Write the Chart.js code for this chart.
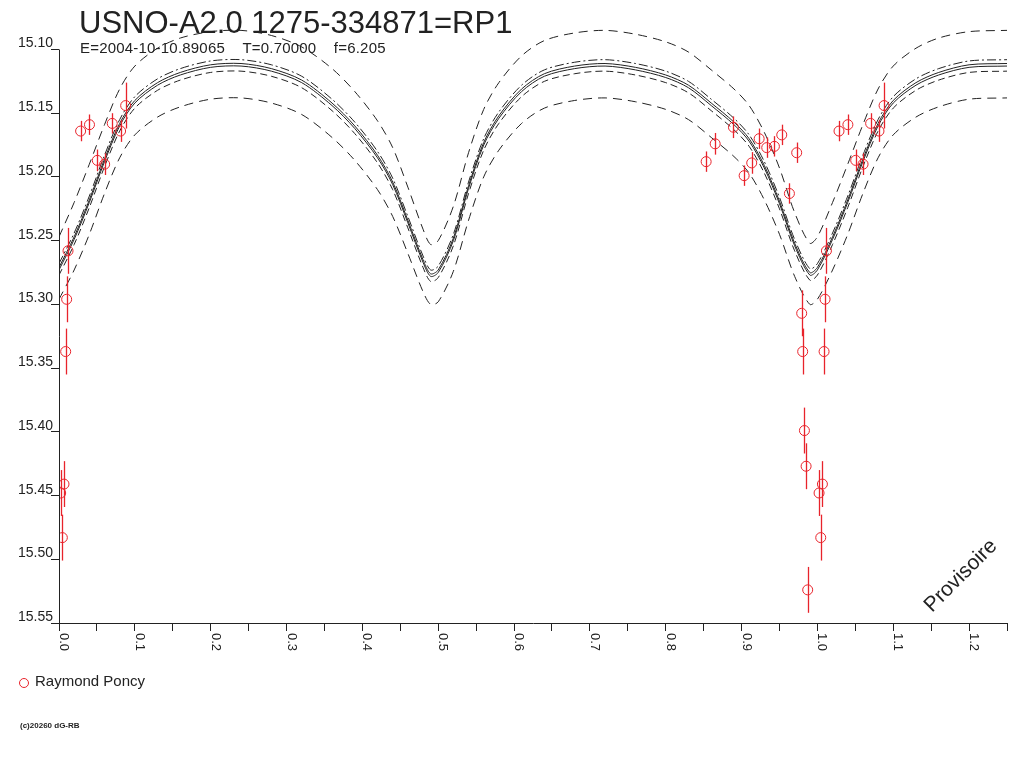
<!DOCTYPE html>
<html>
<head>
<meta charset="utf-8">
<script src="https://cdn.jsdelivr.net/npm/chart.js@4.4.1/dist/chart.umd.min.js"></script>
<style>
html, body { margin: 0; padding: 0; background: #fff; }
canvas { display: block; }
</style>
</head>
<body>
<canvas id="lc" width="1024" height="768"></canvas>
<script>
// phase grid of the model curves
const phases = [
  0.00, 0.02, 0.04, 0.06, 0.08, 0.10, 0.13, 0.16,
  0.20, 0.24, 0.28, 0.32, 0.36, 0.39, 0.42, 0.44,
  0.46, 0.48, 0.49, 0.50, 0.52, 0.54, 0.56, 0.58,
  0.61, 0.64, 0.68, 0.72, 0.76, 0.80, 0.83, 0.86,
  0.89, 0.91, 0.93, 0.95, 0.97, 0.99, 1.00, 1.02,
  1.04, 1.06, 1.08, 1.10, 1.13, 1.16, 1.20, 1.25
];

const magModel = [
  15.271, 15.247, 15.218, 15.186, 15.158, 15.140, 15.126, 15.118,
  15.112, 15.111, 15.115, 15.124, 15.142, 15.160, 15.183, 15.204,
  15.234, 15.265, 15.276, 15.273, 15.248, 15.207, 15.173, 15.152,
  15.131, 15.119, 15.113, 15.111, 15.114, 15.120, 15.128, 15.142,
  15.157, 15.170, 15.191, 15.219, 15.252, 15.275, 15.271, 15.247,
  15.218, 15.186, 15.158, 15.140, 15.126, 15.118, 15.112, 15.111
];

const magModel2 = [
  15.273, 15.249, 15.220, 15.188, 15.160, 15.142, 15.128, 15.120,
  15.114, 15.113, 15.117, 15.126, 15.144, 15.162, 15.185, 15.206,
  15.236, 15.267, 15.278, 15.275, 15.250, 15.209, 15.175, 15.154,
  15.133, 15.121, 15.115, 15.113, 15.116, 15.122, 15.130, 15.144,
  15.159, 15.172, 15.193, 15.221, 15.254, 15.277, 15.273, 15.249,
  15.220, 15.188, 15.160, 15.142, 15.128, 15.120, 15.114, 15.113
];

const magUpperInner = [
  15.268, 15.244, 15.215, 15.183, 15.155, 15.137, 15.123, 15.115,
  15.109, 15.108, 15.112, 15.121, 15.139, 15.157, 15.180, 15.201,
  15.231, 15.262, 15.273, 15.270, 15.245, 15.204, 15.170, 15.149,
  15.128, 15.116, 15.110, 15.108, 15.111, 15.117, 15.125, 15.139,
  15.154, 15.167, 15.188, 15.216, 15.249, 15.272, 15.268, 15.244,
  15.215, 15.183, 15.155, 15.137, 15.123, 15.115, 15.109, 15.108
];

const magLowerInner = [
  15.277, 15.253, 15.224, 15.192, 15.164, 15.146, 15.132, 15.124,
  15.118, 15.117, 15.121, 15.130, 15.148, 15.166, 15.189, 15.210,
  15.240, 15.271, 15.282, 15.279, 15.254, 15.213, 15.179, 15.158,
  15.137, 15.125, 15.119, 15.117, 15.120, 15.126, 15.134, 15.148,
  15.163, 15.176, 15.197, 15.225, 15.258, 15.281, 15.277, 15.253,
  15.224, 15.192, 15.164, 15.146, 15.132, 15.124, 15.118, 15.117
];

const magUpperOuter = [
  15.247, 15.220, 15.190, 15.159, 15.131, 15.113, 15.099, 15.091,
  15.086, 15.085, 15.089, 15.098, 15.115, 15.133, 15.156, 15.177,
  15.208, 15.241, 15.253, 15.250, 15.223, 15.181, 15.147, 15.126,
  15.105, 15.093, 15.087, 15.085, 15.088, 15.094, 15.102, 15.116,
  15.131, 15.144, 15.165, 15.193, 15.228, 15.252, 15.247, 15.220,
  15.190, 15.159, 15.131, 15.113, 15.099, 15.091, 15.086, 15.085
];

const magLowerOuter = [
  15.296, 15.273, 15.245, 15.213, 15.185, 15.167, 15.153, 15.145,
  15.139, 15.138, 15.142, 15.151, 15.169, 15.187, 15.210, 15.231,
  15.260, 15.290, 15.300, 15.298, 15.274, 15.234, 15.200, 15.179,
  15.158, 15.146, 15.140, 15.138, 15.141, 15.147, 15.155, 15.169,
  15.184, 15.197, 15.218, 15.245, 15.278, 15.300, 15.296, 15.273,
  15.245, 15.213, 15.185, 15.167, 15.153, 15.145, 15.139, 15.138
];

// observations (Raymond Poncy)
const obsPhase = [
  0.0022, 0.0044, 0.0066, 0.0088, 0.0101, 0.0119, 0.0285, 0.0402,
  0.0505, 0.0602, 0.0702, 0.0812, 0.0879,
  0.8533, 0.8652, 0.8893, 0.9034, 0.9134, 0.9232, 0.9332, 0.9433,
  0.9530, 0.9631, 0.9727, 0.9793, 0.9806, 0.9829, 0.9851, 0.9872
];
const obsMag = [
  15.448, 15.483, 15.441, 15.337, 15.296, 15.258, 15.164, 15.159,
  15.187, 15.190, 15.158, 15.164, 15.144,
  15.188, 15.174, 15.161, 15.199, 15.189, 15.170, 15.177, 15.176,
  15.167, 15.213, 15.181, 15.307, 15.337, 15.399, 15.427, 15.524
];
const obsErr = [
  0.018, 0.018, 0.018, 0.018, 0.018, 0.018, 0.008, 0.008,
  0.0085, 0.0085, 0.008, 0.0085, 0.018,
  0.008, 0.0085, 0.0085, 0.008, 0.0085, 0.008, 0.008, 0.008,
  0.008, 0.008, 0.008, 0.018, 0.018, 0.018, 0.018, 0.018
];

const yTicks = [15.10, 15.15, 15.20, 15.25, 15.30, 15.35, 15.40, 15.45, 15.50, 15.55];
const xTicks = [0, 0.05, 0.1, 0.15, 0.2, 0.25, 0.3, 0.35, 0.4, 0.45, 0.5, 0.55, 0.6,
  0.65, 0.7, 0.75, 0.8, 0.85, 0.9, 0.95, 1.0, 1.05, 1.1, 1.15, 1.2, 1.25];
const xLabelTicks = [0, 0.1, 0.2, 0.3, 0.4, 0.5, 0.6, 0.7, 0.8, 0.9, 1.0, 1.1, 1.2];

const INK = "#222";
const RED = "#e8232b";
const FONT = "'Liberation Sans', Arial, sans-serif";

const toXY = (arr) => phases.map((p, i) => ({ x: p, y: arr[i] }));

// points below phase 0.25 are shown again one cycle later
const obsPoints = [];
obsPhase.forEach((p, i) => {
  obsPoints.push({ x: p, y: obsMag[i], e: obsErr[i] });
  if (p + 1 <= 1.25) obsPoints.push({ x: p + 1, y: obsMag[i], e: obsErr[i] });
});

const curve = (arr, dash) => ({
  data: toXY(arr),
  showLine: true,
  borderColor: INK,
  borderWidth: 1,
  borderDash: dash,
  pointRadius: 0,
  fill: false,
  tension: 0.3,
});

const errorBars = {
  id: "errorBars",
  afterDatasetsDraw(chart) {
    const { ctx, chartArea, scales } = chart;
    ctx.save();
    ctx.beginPath();
    ctx.rect(chartArea.left, chartArea.top, chartArea.width, chartArea.height);
    ctx.clip();
    ctx.strokeStyle = RED;
    ctx.lineWidth = 1.3;
    obsPoints.forEach((pt) => {
      const x = Math.round(scales.x.getPixelForValue(pt.x)) + 0.5;
      ctx.beginPath();
      ctx.moveTo(x, scales.y.getPixelForValue(pt.y - pt.e));
      ctx.lineTo(x, scales.y.getPixelForValue(pt.y + pt.e));
      ctx.stroke();
    });
    ctx.restore();
  },
};

const decorations = {
  id: "decorations",
  afterDraw(chart) {
    const { ctx, chartArea, scales } = chart;
    ctx.save();
    ctx.fillStyle = INK;
    ctx.strokeStyle = INK;

    // y axis line, from the first tick down
    ctx.lineWidth = 1;
    ctx.beginPath();
    ctx.moveTo(chartArea.left + 0.5, scales.y.getPixelForValue(yTicks[0]));
    ctx.lineTo(chartArea.left + 0.5, chartArea.bottom);
    ctx.stroke();

    // y tick labels sit just above their tick
    ctx.font = "14px " + FONT;
    ctx.textAlign = "right";
    ctx.textBaseline = "alphabetic";
    yTicks.forEach((v) => {
      ctx.fillText(v.toFixed(2), chartArea.left - 6, scales.y.getPixelForValue(v) - 2);
    });

    // x tick labels turned a quarter clockwise
    ctx.font = "13px " + FONT;
    xLabelTicks.forEach((v) => {
      ctx.save();
      ctx.translate(scales.x.getPixelForValue(v) + 1, chartArea.bottom + 10);
      ctx.rotate(Math.PI / 2);
      ctx.textAlign = "left";
      ctx.fillText(v.toFixed(1), 0, 0);
      ctx.restore();
    });

    // title block
    ctx.textAlign = "left";
    ctx.font = "31px " + FONT;
    ctx.fillText("USNO-A2.0 1275-334871=RP1", 79, 33);
    ctx.font = "15px " + FONT;
    ctx.letterSpacing = "0.2px";
    ctx.fillText("E=2004-10-10.89065    T=0.70000    f=6.205", 80, 53);
    ctx.letterSpacing = "0px";

    // legend
    ctx.strokeStyle = RED;
    ctx.lineWidth = 1;
    ctx.beginPath();
    ctx.arc(24, 683, 4.5, 0, Math.PI * 2);
    ctx.stroke();
    ctx.font = "15px " + FONT;
    ctx.textBaseline = "middle";
    ctx.fillText("Raymond Poncy", 35, 682);

    ctx.font = "bold 8px " + FONT;
    ctx.fillText("(c)20260 dG-RB", 20, 726);

    // watermark
    ctx.save();
    ctx.translate(932, 613);
    ctx.rotate(-Math.PI / 4);
    ctx.font = "21px " + FONT;
    ctx.textBaseline = "alphabetic";
    ctx.fillText("Provisoire", 0, 0);
    ctx.restore();

    ctx.restore();
  },
};

new Chart(document.getElementById("lc"), {
  type: "scatter",
  data: {
    datasets: [
      {
        label: "Raymond Poncy",
        data: obsPoints,
        pointStyle: "circle",
        pointRadius: 5,
        borderColor: RED,
        backgroundColor: "rgba(0,0,0,0)",
        borderWidth: 1,
      },
      curve(magModel, []),
      curve(magModel2, []),
      curve(magUpperInner, [9, 3, 2, 3]),
      curve(magLowerInner, [7, 4]),
      curve(magUpperOuter, [9, 6]),
      curve(magLowerOuter, [9, 6]),
    ],
  },
  options: {
    responsive: false,
    animation: false,
    devicePixelRatio: 1,
    events: [],
    layout: { padding: { top: 24, right: 17, left: 0, bottom: 0 } },
    plugins: { legend: { display: false }, tooltip: { enabled: false } },
    scales: {
      x: {
        type: "linear",
        min: 0,
        max: 1.25,
        afterBuildTicks: (scale) => { scale.ticks = xTicks.map((v) => ({ value: v })); },
        afterFit: (scale) => { scale.height = 145; },
        ticks: { display: false },
        grid: { drawOnChartArea: false, drawTicks: true, tickLength: 8, color: INK },
        border: { display: true, color: INK, width: 1 },
      },
      y: {
        type: "linear",
        reverse: true,
        min: 15.08,
        max: 15.55,
        afterBuildTicks: (scale) => { scale.ticks = yTicks.map((v) => ({ value: v })); },
        afterFit: (scale) => { scale.width = 59; },
        ticks: { display: false },
        grid: { drawOnChartArea: false, drawTicks: true, tickLength: 8, color: INK },
        border: { display: false },
      },
    },
  },
  plugins: [errorBars, decorations],
});
</script>
</body>
</html>
